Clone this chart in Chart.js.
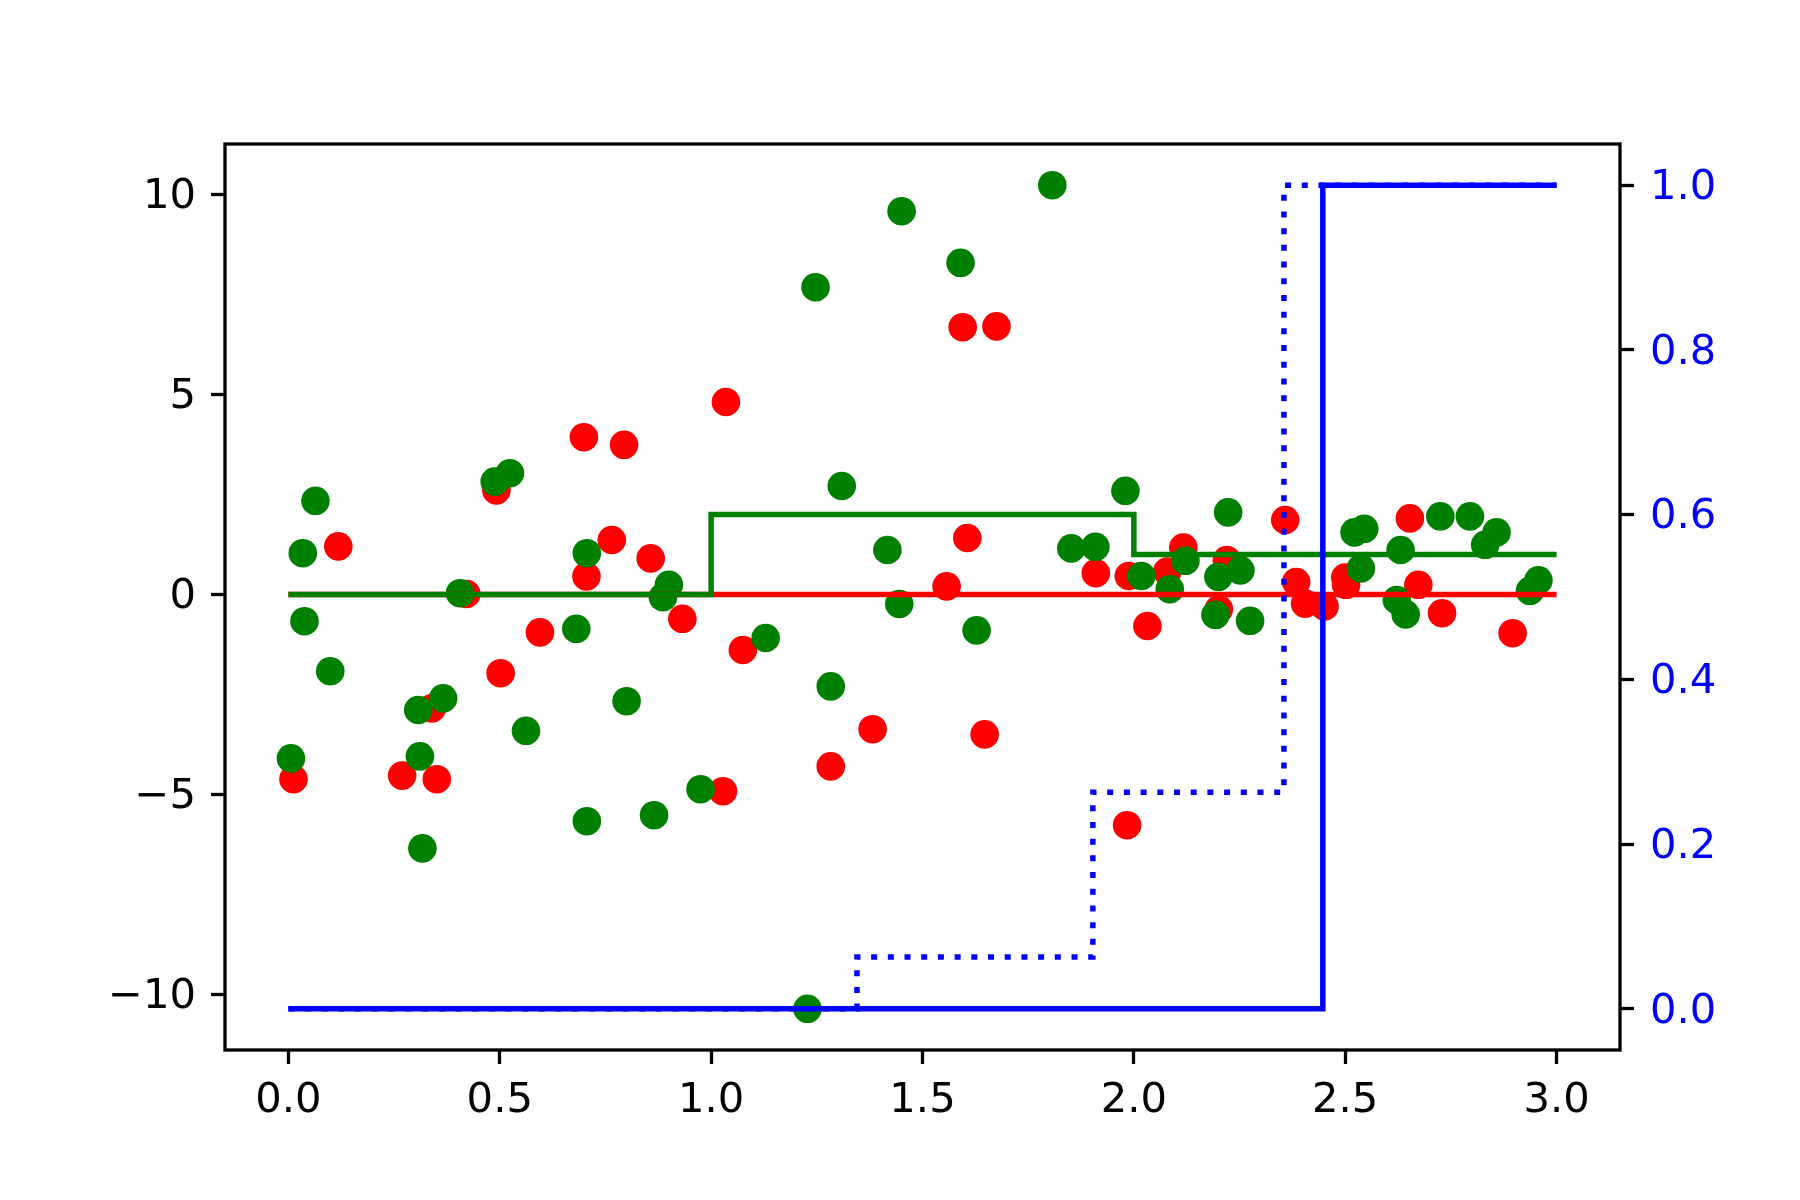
<!DOCTYPE html>
<html>
<head>
<meta charset="utf-8">
<script src="https://cdn.jsdelivr.net/npm/chart.js@4/dist/chart.umd.min.js"></script>
<style>
  html, body { margin: 0; padding: 0; background: #fff; }
  canvas { display: block; }
</style>
</head>
<body>
<canvas id="chart" width="1800" height="1200"></canvas>
<script>
// scatter points
var redX = [0.012, 0.118, 0.269, 0.339, 0.351, 0.421, 0.492, 0.502, 0.595, 0.699, 0.705, 0.765, 0.794, 0.857, 0.932,
  1.028, 1.035, 1.075, 1.283, 1.382, 1.557, 1.595, 1.606, 1.647, 1.675, 1.910, 1.984, 1.988, 2.032, 2.079, 2.117,
  2.201, 2.220, 2.358, 2.384, 2.405, 2.451, 2.502, 2.500, 2.653, 2.673, 2.729, 2.896];
var redY = [-4.62, 1.20, -4.53, -2.85, -4.62, 0.01, 2.60, -1.97, -0.95, 3.93, 0.45, 1.36, 3.74, 0.90, -0.61,
  -4.92, 4.81, -1.39, -4.30, -3.37, 0.20, 6.68, 1.41, -3.50, 6.70, 0.53, -5.77, 0.46, -0.79, 0.57, 1.17,
  -0.37, 0.86, 1.86, 0.31, -0.23, -0.30, 0.24, 0.42, 1.90, 0.24, -0.47, -0.97];

var greenX = [0.006, 0.034, 0.038, 0.064, 0.099, 0.307, 0.311, 0.317, 0.366, 0.406, 0.488, 0.524, 0.562, 0.681,
  0.706, 0.706, 0.800, 0.865, 0.886, 0.900, 0.975, 1.129, 1.228, 1.247, 1.283, 1.309, 1.417, 1.445, 1.4505,
  1.590, 1.628, 1.807, 1.852, 1.909, 1.980, 2.018, 2.085, 2.122, 2.193, 2.200, 2.223, 2.252, 2.275, 2.522,
  2.537, 2.545, 2.622, 2.631, 2.643, 2.725, 2.795, 2.831, 2.858, 2.937, 2.957];
var greenY = [-4.10, 1.03, -0.67, 2.34, -1.92, -2.89, -4.05, -6.35, -2.60, 0.03, 2.82, 3.03, -3.41, -0.86,
  1.03, -5.67, -2.67, -5.52, -0.07, 0.24, -4.87, -1.09, -10.36, 7.68, -2.30, 2.71, 1.11, -0.24, 9.58,
  8.29, -0.90, 10.23, 1.15, 1.19, 2.59, 0.46, 0.13, 0.84, -0.51, 0.44, 2.05, 0.60, -0.66, 1.55,
  0.65, 1.64, -0.14, 1.11, -0.50, 1.95, 1.95, 1.24, 1.55, 0.09, 0.35];

// step lines (left axis), value holds until the next x
var redLineX = [0, 3];
var redLineY = [0, 0];
var greenStepX = [0, 1, 1, 2, 2, 3];
var greenStepY = [0, 0, 2, 2, 1, 1];

// step lines (right axis)
var blueSolidX = [0, 2.447, 2.447, 3];
var blueSolidY = [0, 0, 1, 1];
var blueDotX = [0, 1.345, 1.345, 1.903, 1.903, 2.355, 2.355, 3];
var blueDotY = [0, 0, 0.063, 0.063, 0.263, 0.263, 1, 1];

// ticks
var xTicks = [0, 0.5, 1.0, 1.5, 2.0, 2.5, 3.0];
var yTicks = [-10, -5, 0, 5, 10];
var y2Ticks = [0, 0.2, 0.4, 0.6, 0.8, 1.0];

function pts(xs, ys) {
  return xs.map(function(x, i) { return {x: x, y: ys[i]}; });
}

var font = {family: 'DejaVu Sans', size: 41.7};

var frame = {
  id: 'frame',
  afterDatasetsDraw: function(chart) {
    var a = chart.chartArea;
    var ctx = chart.ctx;
    ctx.save();
    ctx.strokeStyle = '#000';
    ctx.lineWidth = 3.3;
    ctx.strokeRect(a.left, a.top, a.right - a.left, a.bottom - a.top);
    ctx.restore();
  }
};

var tickGrid = {display: true, drawOnChartArea: false, drawTicks: true, tickLength: 14, tickWidth: 3.3, tickColor: '#000'};

new Chart(document.getElementById('chart'), {
  type: 'scatter',
  data: {
    datasets: [
      {data: pts(blueSolidX, blueSolidY), yAxisID: 'y2', showLine: true, borderColor: '#0000ff',
        borderWidth: 5.5, borderJoinStyle: 'miter', pointRadius: 0, order: 1},
      {data: pts(blueDotX, blueDotY), yAxisID: 'y2', showLine: true, borderColor: '#0000ff',
        borderWidth: 5.5, borderDash: [6, 10.7], borderCapStyle: 'butt', pointRadius: 0, order: 2},
      {data: pts(greenStepX, greenStepY), yAxisID: 'y', showLine: true, borderColor: '#008000',
        borderWidth: 5.5, borderJoinStyle: 'miter', pointRadius: 0, order: 3},
      {data: pts(redLineX, redLineY), yAxisID: 'y', showLine: true, borderColor: '#ff0000',
        borderWidth: 5.5, pointRadius: 0, order: 4},
      {data: pts(greenX, greenY), yAxisID: 'y', backgroundColor: '#008000', borderColor: '#008000',
        pointRadius: 14.3, pointBorderWidth: 0, order: 5},
      {data: pts(redX, redY), yAxisID: 'y', backgroundColor: '#ff0000', borderColor: '#ff0000',
        pointRadius: 14.3, pointBorderWidth: 0, order: 6}
    ]
  },
  options: {
    responsive: false,
    animation: false,
    devicePixelRatio: 1,
    layout: {padding: {left: 0, right: 0, top: 144, bottom: 0}},
    plugins: {legend: {display: false}, tooltip: {enabled: false}},
    scales: {
      x: {
        type: 'linear', min: -0.15, max: 3.15,
        afterBuildTicks: function(s) { s.ticks = xTicks.map(function(v) { return {value: v}; }); },
        afterFit: function(s) { s.height = 150; },
        grid: tickGrid,
        border: {display: false},
        ticks: {font: font, color: '#000', padding: 12, maxRotation: 0, autoSkip: false,
          callback: function(v) { return v.toFixed(1); }}
      },
      y: {
        type: 'linear', position: 'left', min: -11.39, max: 11.26,
        afterBuildTicks: function(s) { s.ticks = yTicks.map(function(v) { return {value: v}; }); },
        afterFit: function(s) { s.width = 225; },
        grid: tickGrid,
        border: {display: false},
        ticks: {font: font, color: '#000', padding: 15, labelOffset: 3, autoSkip: false,
          callback: function(v) { return v < 0 ? '\u2212' + Math.abs(v) : String(v); }}
      },
      y2: {
        type: 'linear', position: 'right', min: -0.05, max: 1.05,
        afterBuildTicks: function(s) { s.ticks = y2Ticks.map(function(v) { return {value: v}; }); },
        afterFit: function(s) { s.width = 180; },
        grid: tickGrid,
        border: {display: false},
        ticks: {font: font, color: '#0000ff', padding: 16, labelOffset: 3, autoSkip: false,
          callback: function(v) { return v.toFixed(1); }}
      }
    }
  },
  plugins: [frame]
});
</script>
</body>
</html>
